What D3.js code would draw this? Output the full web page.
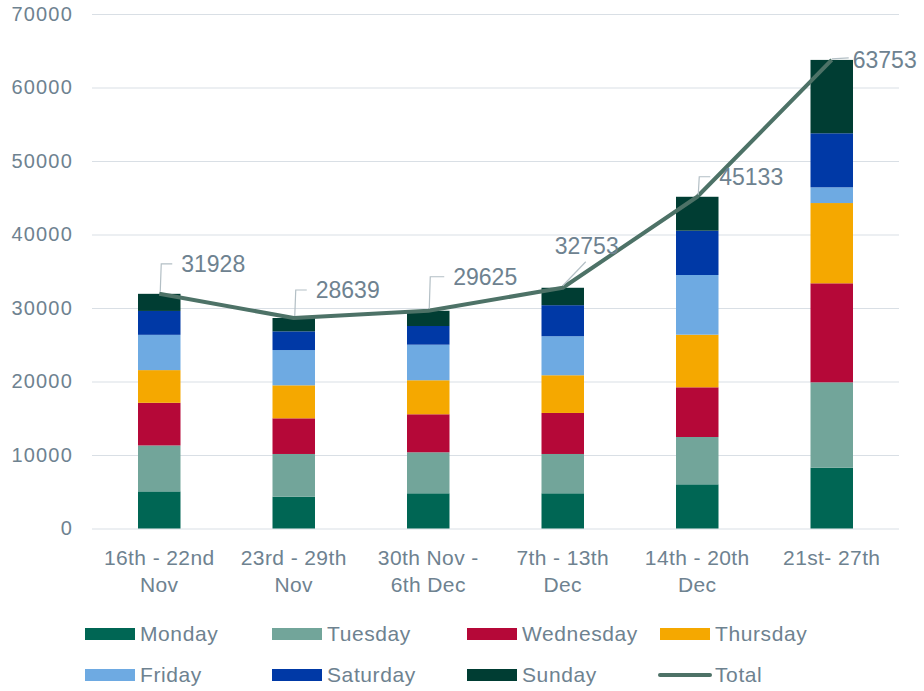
<!DOCTYPE html>
<html>
<head>
<meta charset="utf-8">
<script src="https://cdn.jsdelivr.net/npm/d3@7"></script>
<style>
  body { margin: 0; background: #fff; }
  svg { display: block; font-family: "Liberation Sans", Arial, sans-serif; }
</style>
</head>
<body>
<svg id="chart" width="924" height="691"></svg>
<script>
// weeks (axis labels split in lines)
var weeks = [
    ["16th - 22nd", "Nov"],
    ["23rd - 29th", "Nov"],
    ["30th Nov -", "6th Dec"],
    ["7th - 13th", "Dec"],
    ["14th - 20th", "Dec"],
    ["21st- 27th"]
];
var days = ["Monday", "Tuesday", "Wednesday", "Thursday", "Friday", "Saturday", "Sunday"];

var monday    = [5050, 4330, 4790, 4790, 6010, 8270];
var tuesday   = [6250, 5810, 5580, 5350, 6440, 11620];
var wednesday = [5800, 4850, 5170, 5580, 6760, 13470];
var thursday  = [4450, 4490, 4630, 5130, 7160, 10920];
var friday    = [4800, 4800, 4840, 5310, 8120, 2140];
var saturday  = [3250, 2540, 2540, 4220, 6030, 7350];
var sunday    = [2328, 1819, 2075, 2373, 4613, 9983];
var totals    = [31928, 28639, 29625, 32753, 45133, 63753];

var yTicks = [0, 10000, 20000, 30000, 40000, 50000, 60000, 70000];

var colores = ["#006654", "#72a59a", "#b50838", "#f5a800", "#6eaae2", "#0039a6", "#003d33"];
var corLinha = "#4d7267";
var corTexto = "#6e8290";

// where each total label sits relative to its point
var labelOffsets = [[22, -30], [22, -28], [25, -34], [-8, -42], [22, -20], [21, 0]];

var series = [monday, tuesday, wednesday, thursday, friday, saturday, sunday];

var svg = d3.select("#chart");
var plotL = 92, plotR = 899, plotT = 14, plotB = 528.5;

var x = d3.scaleBand()
    .domain(d3.range(weeks.length))
    .range([plotL, plotR])
    .padding(0);

var y = d3.scaleLinear()
    .domain([0, 70000])
    .range([plotB, plotT]);

var barW = x.bandwidth() * 0.316;

// grid + y labels
var gy = svg.append("g")
    .attr("transform", "translate(" + plotL + ",0)")
    .call(d3.axisLeft(y).tickValues(yTicks).tickSize(-(plotR - plotL)).tickPadding(19).tickFormat(d3.format("d")));
gy.select(".domain").remove();
gy.selectAll("line").attr("stroke", "#d9dfe5").attr("stroke-width", 1);
gy.selectAll("text")
    .attr("fill", corTexto)
    .style("font-size", "20px")
    .style("letter-spacing", "1.2px");

// stacked bars
var tabela = weeks.map(function (w, i) {
    var row = { i: i };
    days.forEach(function (d, k) { row[d] = series[k][i]; });
    return row;
});
var stack = d3.stack().keys(days)(tabela);

svg.append("g").selectAll("g")
    .data(stack)
    .enter().append("g")
    .attr("fill", function (d, k) { return colores[k]; })
    .selectAll("rect")
    .data(function (d) { return d; })
    .enter().append("rect")
    .attr("x", function (d) { return x(d.data.i) + (x.bandwidth() - barW) / 2; })
    .attr("y", function (d) { return y(d[1]); })
    .attr("width", barW)
    .attr("height", function (d) { return y(d[0]) - y(d[1]); });

// x labels
var gx = svg.append("g").selectAll("text")
    .data(weeks)
    .enter().append("text")
    .attr("text-anchor", "middle")
    .attr("fill", corTexto)
    .style("font-size", "21px")
    .style("letter-spacing", "0.4px");
gx.each(function (lines, i) {
    var t = d3.select(this);
    lines.forEach(function (l, j) {
        t.append("tspan")
            .attr("x", x(i) + x.bandwidth() / 2)
            .attr("y", 565 + j * 27)
            .text(l);
    });
});

// total line
var cx = function (i) { return x(i) + x.bandwidth() / 2; };
svg.append("path")
    .datum(totals)
    .attr("fill", "none")
    .attr("stroke", corLinha)
    .attr("stroke-width", 4)
    .attr("stroke-linejoin", "round")
    .attr("d", d3.line().x(function (d, i) { return cx(i); }).y(function (d) { return y(d); }));

// data labels with leader lines
totals.forEach(function (v, i) {
    var px = cx(i), py = y(v);
    var tx = px + labelOffsets[i][0], ty = py + labelOffsets[i][1];
    var pts;
    if (labelOffsets[i][0] > 0 && labelOffsets[i][1] < -5) {
        pts = [[px + 1, py - 2], [px + 2, ty], [tx - 9, ty]];
    } else if (labelOffsets[i][0] > 0) {
        pts = [[px, py - 1], [tx - 4, py - 2]];
    } else {
        pts = [[px, py - 2], [px + 23, ty + 16]];
    }
    svg.append("path")
        .attr("fill", "none")
        .attr("stroke", "#b3bfc5")
        .attr("stroke-width", 1.2)
        .attr("d", d3.line()(pts));
    svg.append("text")
        .attr("x", tx)
        .attr("y", ty)
        .attr("dy", "0.35em")
        .attr("fill", corTexto)
        .style("font-size", "23px")
        .text(v);
});

// legend
var legendItems = days.concat(["Total"]);
var colX = [85, 272, 467, 660], rowY = [634, 675];
var lg = svg.append("g").selectAll("g")
    .data(legendItems)
    .enter().append("g")
    .attr("transform", function (d, k) {
        return "translate(" + colX[k % 4] + "," + rowY[Math.floor(k / 4)] + ")";
    });
lg.each(function (d, k) {
    var g = d3.select(this);
    if (d === "Total") {
        g.append("line").attr("x1", 0).attr("x2", 50).attr("y1", 0).attr("y2", 0)
            .attr("stroke", corLinha).attr("stroke-width", 4).attr("stroke-linecap", "round");
    } else {
        g.append("rect").attr("x", 0).attr("y", -6).attr("width", 50).attr("height", 12)
            .attr("fill", colores[k]);
    }
    g.append("text")
        .attr("x", 55)
        .attr("dy", "0.35em")
        .attr("fill", corTexto)
        .style("font-size", "21px")
        .style("letter-spacing", "0.6px")
        .text(d);
});
</script>
</body>
</html>
